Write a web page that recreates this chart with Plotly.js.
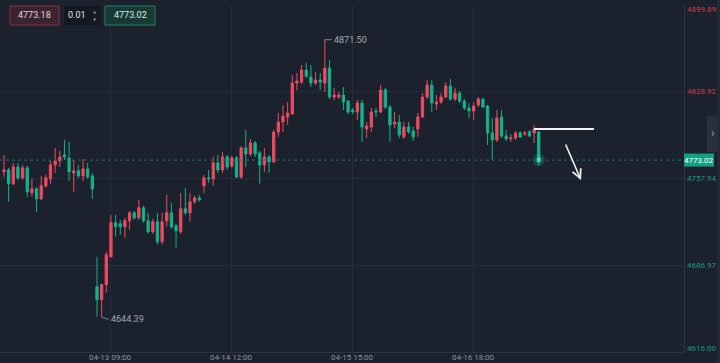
<!DOCTYPE html>
<html>
<head>
<meta charset="utf-8">
<script src="https://cdn.plot.ly/plotly-3.0.1.min.js"></script>
<style>
html,body{margin:0;padding:0;background:#1b212d;}
#chart{width:720px;height:363px;}
</style>
</head>
<body>
<div id="chart"></div>
<script>
// ---- data ----
const openP = [4763.35,4764.98,4753.55,4767.43,4758.45,4766.62,4746.21,4749.47,4741.31,4751.92,
4757.64,4769.07,4772.33,4777.23,4774.78,4762.54,4764.17,4760.09,4765.80,4760.09,
4669.45,4658.84,4671.09,4693.95,4721.71,4720.89,4718.44,4723.34,4729.88,4725.79,
4733.96,4723.34,4714.36,4722.53,4706.20,4723.34,4729.88,4719.26,4714.36,4733.14,
4729.88,4738.86,4742.12,4751.92,4758.45,4757.64,4770.70,4764.98,4775.60,4768.25,
4774.78,4759.27,4782.95,4778.05,4787.03,4778.87,4769.07,4775.60,4771.52,4796.01,
4804.18,4808.26,4810.71,4836.02,4836.84,4846.63,4840.92,4836.02,4838.47,4836.02,
4848.27,4824.59,4824.59,4826.22,4821.32,4813.97,4812.34,4819.69,4798.46,4800.09,
4813.16,4812.34,4830.30,4816.42,4802.54,4804.18,4791.93,4800.09,4796.83,4798.46,
4808.26,4824.59,4834.39,4818.87,4820.51,4824.59,4833.57,4822.96,4827.86,4821.32,
4815.61,4813.16,4818.06,4822.96,4817.24,4795.20,4789.48,4808.26,4792.75,4790.30,
4791.11,4795.20,4794.38,4796.01,4795.20,4796.01];
const highP = [4777.23,4766.62,4770.70,4770.70,4769.07,4768.25,4757.64,4751.10,4760.09,4760.90,
4772.33,4782.95,4780.50,4789.48,4787.85,4773.15,4769.07,4773.97,4770.70,4762.54,
4693.95,4671.90,4698.03,4728.24,4728.24,4724.16,4725.79,4731.51,4731.51,4740.49,
4735.59,4729.88,4724.98,4729.88,4729.88,4744.57,4738.04,4720.89,4746.21,4750.29,
4746.21,4743.76,4744.57,4760.90,4764.98,4775.60,4777.23,4779.68,4777.23,4776.42,
4776.42,4784.58,4797.64,4790.30,4788.66,4780.50,4782.95,4777.23,4797.64,4811.53,
4818.06,4820.51,4842.55,4844.19,4850.72,4852.35,4850.72,4845.00,4844.19,4871.50,
4854.80,4831.94,4828.67,4832.75,4822.14,4815.61,4822.14,4822.14,4804.18,4815.61,
4815.61,4834.39,4831.94,4818.06,4812.34,4809.89,4804.18,4804.18,4800.09,4811.53,
4827.86,4838.47,4838.47,4826.22,4827.86,4836.84,4839.29,4831.94,4829.49,4822.96,
4819.69,4820.51,4824.59,4823.77,4818.06,4807.44,4813.97,4813.97,4797.64,4794.38,
4796.83,4796.83,4796.83,4797.64,4801.73,4796.83];
const lowP = [4759.27,4738.86,4752.74,4756.82,4756.82,4742.94,4742.94,4730.69,4740.49,4750.29,
4753.55,4762.54,4767.43,4773.15,4756.00,4747.02,4758.45,4756.00,4757.64,4741.31,
4644.96,4644.39,4664.56,4693.13,4710.28,4711.91,4709.46,4715.99,4724.16,4724.16,
4721.71,4712.73,4712.73,4703.75,4703.75,4718.44,4716.81,4701.30,4712.73,4728.24,
4722.53,4737.22,4738.86,4746.21,4754.37,4751.92,4762.54,4762.54,4764.98,4766.62,
4758.45,4757.64,4767.43,4776.42,4775.60,4753.55,4763.35,4762.54,4770.70,4791.93,
4796.01,4801.73,4809.89,4830.30,4835.20,4840.10,4832.75,4834.39,4830.30,4828.67,
4822.96,4822.14,4822.96,4813.97,4810.71,4810.71,4805.81,4787.85,4791.11,4796.01,
4808.26,4811.53,4814.79,4787.85,4799.28,4791.11,4790.30,4794.38,4788.66,4791.93,
4807.44,4822.96,4812.34,4813.97,4818.87,4823.77,4821.32,4821.32,4819.69,4813.97,
4807.44,4805.81,4816.42,4815.61,4785.40,4773.15,4787.85,4791.11,4788.66,4787.85,
4789.48,4791.11,4792.75,4791.93,4787.03,4768.25];
const closeP = [4764.98,4753.55,4767.43,4758.45,4766.62,4747.02,4749.47,4741.31,4751.92,4758.45,
4769.07,4772.33,4775.60,4775.60,4763.35,4764.17,4760.09,4765.80,4759.27,4749.47,
4658.84,4671.09,4695.58,4721.71,4718.44,4718.44,4723.34,4729.88,4725.79,4733.96,
4723.34,4714.36,4722.53,4706.20,4722.53,4729.88,4718.44,4715.18,4733.14,4729.88,
4738.86,4742.12,4740.49,4758.45,4757.64,4770.70,4764.98,4775.60,4767.43,4774.78,
4759.27,4782.95,4778.05,4787.03,4778.05,4769.07,4775.60,4771.52,4796.01,4804.18,
4809.08,4811.53,4836.02,4837.65,4846.63,4841.74,4836.02,4838.47,4836.84,4848.27,
4824.59,4826.22,4826.22,4820.51,4812.34,4812.34,4819.69,4800.09,4800.91,4812.34,
4812.34,4830.30,4816.42,4801.73,4804.18,4793.56,4800.09,4796.01,4791.93,4808.26,
4824.59,4834.39,4819.69,4820.51,4824.59,4833.57,4822.96,4827.86,4821.32,4815.61,
4813.16,4817.24,4822.96,4816.42,4795.20,4789.48,4807.44,4792.75,4790.30,4791.11,
4795.20,4791.93,4795.20,4792.75,4798.46,4773.02];

const xTickIdx = [23, 49, 75, 101];
const xTickLabels = ['04-13 09:00', '04-14 12:00', '04-15 15:00', '04-16 18:00'];
const yTicks = [4616.00, 4686.97, 4757.94, 4828.92, 4899.89];
const bidPrice = '4773.18';
const stepText = '0.01';
const askPrice = '4773.02';

// ---- styling ----
const BG = '#1b212d';
const UP = '#ec4b60';
const DOWN = '#14b28c';
const GRID = '#252d3a';
const AXL = '#2c3442';
const FONT = 'Roboto, "Noto Sans", "DejaVu Sans", sans-serif';

const idx = openP.map((_, i) => i);
const last = idx.length - 1;
const lastClose = closeP[last];

// find extreme candles from data
let hiI = 0, loI = 0;
highP.forEach((v, i) => { if (v > highP[hiI]) hiI = i; });
lowP.forEach((v, i) => { if (v < lowP[loI]) loI = i; });

// plot geometry (pixels) used only for decorative UI pieces
const PL = 0, PT = 5, PW = 684, PH = 347;
const px = x => (x - PL) / PW;
const py = y => (PT + PH - y) / PH;

const traces = [
  {
    type: 'candlestick',
    x: idx, open: openP, high: highP, low: lowP, close: closeP,
    increasing: {line: {color: UP, width: 1}, fillcolor: UP},
    decreasing: {line: {color: DOWN, width: 1}, fillcolor: DOWN},
    whiskerwidth: 0,
    hoverinfo: 'skip'
  },
  {
    type: 'scatter', mode: 'markers',
    x: [idx[last]], y: [lastClose],
    marker: {size: 12, color: 'rgba(30,210,165,0.22)'},
    hoverinfo: 'skip'
  },
  {
    type: 'scatter', mode: 'markers',
    x: [idx[last]], y: [lastClose],
    marker: {size: 5, color: 'rgba(90,240,200,0.7)'},
    hoverinfo: 'skip'
  }
];

const shapes = [
  // current price dotted line
  {type: 'line', xref: 'paper', yref: 'y', x0: 0, x1: 1, y0: lastClose, y1: lastClose,
   line: {color: '#1b7464', width: 1, dash: 'dot'}},
  // current price tag
  {type: 'rect', xref: 'paper', yref: 'y', ysizemode: 'pixel', yanchor: lastClose,
   x0: 1, x1: px(714), y0: -6.5, y1: 6.5, fillcolor: '#13a084', line: {width: 0}},
  // top-left widgets
  {type: 'rect', xref: 'paper', yref: 'paper', x0: px(10), x1: px(59), y0: py(25), y1: py(6),
   fillcolor: '#3c2332', line: {color: '#843443', width: 1}},
  {type: 'rect', xref: 'paper', yref: 'paper', x0: px(64), x1: px(101), y0: py(25), y1: py(6),
   fillcolor: '#131821', line: {width: 0}},
  {type: 'rect', xref: 'paper', yref: 'paper', x0: px(105), x1: px(155), y0: py(25), y1: py(6),
   fillcolor: '#183a35', line: {color: '#22806e', width: 1}},
  // right side collapse tab
  {type: 'rect', xref: 'paper', yref: 'paper', x0: px(707), x1: px(718), y0: py(152), y1: py(116),
   fillcolor: '#2a303b', line: {width: 0}},
  {type: 'rect', xref: 'paper', yref: 'paper', x0: px(717), x1: px(720), y0: py(363), y1: py(0),
   fillcolor: '#232a36', line: {width: 0}},
  // hand-drawn white line
  {type: 'line', xref: 'paper', yref: 'paper', x0: px(534), x1: px(594), y0: py(129), y1: py(129),
   line: {color: '#f4f4f4', width: 2}}
];

const annotations = [];
// x axis labels (drawn as annotations so they fit inside the picture)
xTickIdx.forEach((v, k) => {
  annotations.push({
    xref: 'x', yref: 'paper', x: v, y: py(363), xanchor: 'center', yanchor: 'bottom',
    text: xTickLabels[k], showarrow: false, borderpad: 0,
    font: {family: FONT, size: 8, color: '#8c93a0'}
  });
});
// right axis labels
yTicks.forEach((v, k) => {
  let shift = 0;
  if (k === yTicks.length - 1) shift = -4;
  if (k === 0) shift = 4;
  annotations.push({
    xref: 'paper', yref: 'y', x: 1, y: v, xanchor: 'left', yanchor: 'middle', xshift: 1, yshift: shift,
    text: v.toFixed(2), showarrow: false,
    font: {family: FONT, size: 8, color: v > lastClose ? '#c4404f' : '#1a9c82'}
  });
});
// current price tag text
annotations.push({
  xref: 'paper', yref: 'y', x: px(699), y: lastClose, xanchor: 'center', yanchor: 'middle',
  text: lastClose.toFixed(2), showarrow: false, font: {family: FONT, size: 8, color: '#ffffff'}
});
// high / low labels
annotations.push({
  xref: 'x', yref: 'y', x: idx[hiI], y: highP[hiI], text: highP[hiI].toFixed(2),
  showarrow: true, arrowhead: 0, arrowwidth: 1, arrowcolor: '#7c828e', ax: 7, ay: 0,
  xanchor: 'left', yanchor: 'middle', font: {family: FONT, size: 9, color: '#a3a8b2'}
});
annotations.push({
  xref: 'x', yref: 'y', x: idx[loI], y: lowP[loI], text: lowP[loI].toFixed(2),
  showarrow: true, arrowhead: 0, arrowwidth: 1, arrowcolor: '#7c828e', ax: 7, ay: 2,
  xanchor: 'left', yanchor: 'middle', font: {family: FONT, size: 9, color: '#a3a8b2'}
});
// widgets text
const wText = (x, y, t, size, color) => annotations.push({
  xref: 'paper', yref: 'paper', x: px(x), y: py(y), xanchor: 'center', yanchor: 'middle',
  text: t, showarrow: false, font: {family: FONT, size: size, color: color}
});
wText(34.5, 15.5, bidPrice, 9, '#e3d6da');
wText(77, 15.5, stepText, 9, '#e3e6ea');
wText(95, 11.5, '▲', 4, '#8a909a');
wText(95, 19.5, '▼', 4, '#8a909a');
wText(130, 15.5, askPrice, 9, '#d9ebe6');
wText(712.5, 133.5, '›', 12, '#9aa0aa');
// hand-drawn arrow
annotations.push({
  xref: 'paper', yref: 'paper', x: px(581), y: py(180), ax: -16, ay: -37, text: '',
  showarrow: true, arrowhead: 5, arrowsize: 1.1, arrowwidth: 1.6, arrowcolor: '#f4f4f4'
});

const layout = {
  width: 720, height: 363,
  margin: {l: PL, r: 720 - PL - PW, t: PT, b: 363 - PT - PH, pad: 0},
  paper_bgcolor: BG, plot_bgcolor: BG,
  showlegend: false,
  font: {family: FONT, size: 8, color: '#8c93a0'},
  xaxis: {
    type: 'linear', range: [-0.86, 146.24], fixedrange: true,
    rangeslider: {visible: false},
    tickmode: 'array', tickvals: xTickIdx, showticklabels: false,
    ticks: '', showgrid: true, gridcolor: GRID, gridwidth: 1,
    showline: true, linecolor: AXL, linewidth: 1, zeroline: false
  },
  yaxis: {
    side: 'right', range: [yTicks[0], yTicks[yTicks.length - 1]], fixedrange: true,
    tickmode: 'array', tickvals: yTicks, showticklabels: false,
    ticks: '', showgrid: true, gridcolor: GRID, gridwidth: 1,
    showline: true, linecolor: AXL, linewidth: 1, zeroline: false
  },
  shapes: shapes,
  annotations: annotations
};

Plotly.newPlot('chart', traces, layout, {staticPlot: true, displayModeBar: false});
</script>
</body>
</html>
